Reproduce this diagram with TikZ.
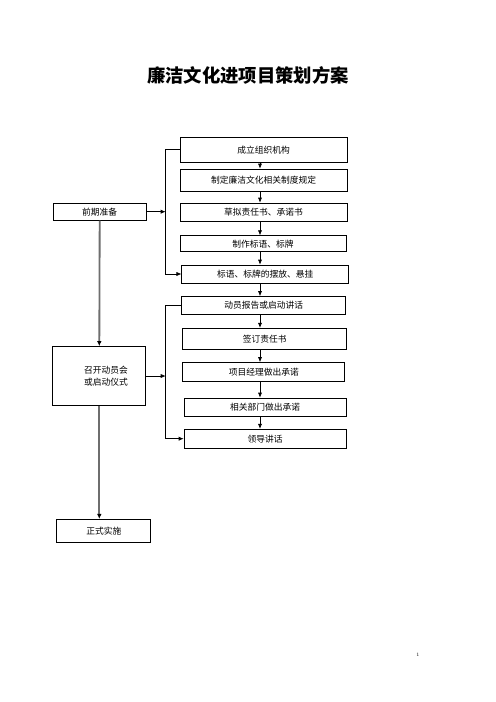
\documentclass[tikz,border=0pt]{standalone}
\usepackage{fontspec}
\newfontfamily\cjk{Noto Sans CJK SC}
\usepackage{xcolor}
\usepackage{tikz}
\usetikzlibrary{arrows.meta, positioning, calc}
\definecolor{linegray}{RGB}{110,110,110}

\begin{document}
\begin{tikzpicture}[x=1.2pt, y=-1.2pt, font=\cjk\fontsize{10.5}{13}\selectfont,
  box/.style={draw, line width=0.8pt, rectangle, inner sep=0pt, minimum width=#1*1.2pt},
  box/.default=167,
  link/.style={line width=0.8pt, -{Latex[length=6pt, width=5pt]}},
  trunk/.style={draw=linegray, line width=2.2pt, -{Latex[length=6pt, width=5.5pt, color=black, fill=black]}}]
\useasboundingbox[fill=white] (0,0) rectangle (496,702);
\node[font=\cjk\bfseries\fontsize{22}{26}\selectfont] (title) at (248,75) {廉洁文化进项目策划方案};
\node[box, minimum height=25*1.2pt] (org) at (263.5,149.8) {成立组织机构};
\node[box, minimum height=22*1.2pt] (rule) at (263.5,180) {制定廉洁文化相关制度规定};
\node[box, minimum height=18*1.2pt] (draft) at (263.5,212) {草拟责任书、承诺书};
\node[box=166, minimum height=16*1.2pt] (slogan) at (263,243.7) {制作标语、标牌};
\node[box, minimum height=18*1.2pt] (hang) at (265.3,274) {标语、标牌的摆放、悬挂};
\node[box=164, minimum height=18*1.2pt] (speech) at (263.8,305.5) {动员报告或启动讲话};
\node[box=164, minimum height=21*1.2pt] (resp) at (264.7,338.7) {签订责任书};
\node[box=162, minimum height=19*1.2pt] (pm) at (263.8,372) {项目经理做出承诺};
\node[box=162, minimum height=18*1.2pt] (dept) at (265,407) {相关部门做出承诺};
\node[box=162, minimum height=19*1.2pt] (lead) at (265,438.7) {领导讲话};
\node[box=93, minimum height=17*1.2pt] (prep) at (99.7,211.7) {前期准备};
\node[box=93, minimum height=59*1.2pt, align=left] (meet) at (99.3,376) {\hspace*{16pt}召开动员会\\[1pt]\hspace*{16pt}或启动仪式};
\node[box=94, minimum height=23*1.2pt] (impl) at (103.8,530.8) {正式实施};
\node[font=\fontsize{6}{7}\selectfont] (page) at (418,655) {1};
\coordinate (brkA) at (165.7,274);
\coordinate (brkB) at (165.7,438.7);
\foreach \a/\b in {org/rule, rule/draft, draft/slogan, slogan/hang, hang/speech,
  speech/resp, resp/pm, pm/dept, dept/lead} {
  \draw[link] (\a.south -| 260,0) -- (\b.north -| 260,0);
}
\draw[link] (org.west) -| (brkA) -- (hang.west);
\draw[link] (speech.west) -| (brkB) -- (lead.west);
\draw[link] (prep.east) -- (prep.east -| brkA);
\draw[link] (meet.east) -- (meet.east -| brkB);
\draw[trunk] (prep.south) -- (meet.north);
\draw[trunk] (meet.south) -- (meet.south |- impl.north);
\end{tikzpicture}
\end{document}
